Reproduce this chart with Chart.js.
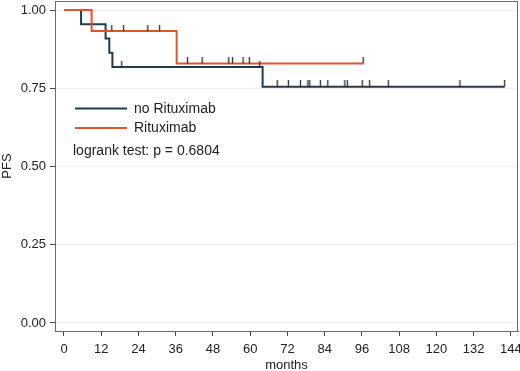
<!DOCTYPE html>
<html>
<head>
<meta charset="utf-8">
<script src="https://cdn.jsdelivr.net/npm/chart.js@4"></script>
<style>
  html, body { margin: 0; padding: 0; background: #fff; }
  #wrap { width: 520px; height: 371px; position: relative; }
</style>
</head>
<body>
<div id="wrap"><canvas id="km"></canvas></div>
<script>
// data
const xTicks = [0, 12, 24, 36, 48, 60, 72, 84, 96, 108, 120, 132, 144];
const yTicks = [0, 0.25, 0.5, 0.75, 1];

const noRituxTimes = [0, 5.5, 13.4, 14.6, 15.6, 64.0, 142];
const noRituxSurv = [1, 0.955, 0.909, 0.864, 0.818, 0.755, 0.755];
const noRituxCensored = [18.6, 63.1, 68.7, 72.3, 76.2, 78.6, 79.2, 82.6, 85.0, 90.5, 91.3, 96.1, 98.5, 104.5, 127.6, 142];

const rituxTimes = [0, 8.9, 36.3, 96.4];
const rituxSurv = [1, 0.933, 0.829, 0.829];
const rituxCensored = [15.4, 19.2, 27.0, 30.8, 39.8, 44.5, 53.1, 54.3, 57.7, 59.7, 96.4];

const labels = ["no Rituximab", "Rituximab"];
const logrankText = "logrank test: p = 0.6804";

const navy = "#1d3a57";
const orange = "#e4542a";
const font = "'Liberation Sans', Arial, sans-serif";

// survival value at time t (step lookup)
function survAt(times, surv, t) {
  let s = surv[0];
  for (let i = 0; i < times.length; i++) {
    if (times[i] <= t) s = surv[i];
  }
  return s;
}

// small upward censor tick image
function censorMark() {
  const c = document.createElement("canvas");
  c.width = 3;
  c.height = 13;
  const g = c.getContext("2d");
  g.strokeStyle = "#2e2e2e";
  g.lineWidth = 1.3;
  g.beginPath();
  g.moveTo(1.5, 0);
  g.lineTo(1.5, 6.5);
  g.stroke();
  return c;
}
const tick = censorMark();

const frameAndLegend = {
  id: "frameAndLegend",
  afterDraw(chart) {
    const { ctx, chartArea } = chart;
    ctx.save();
    ctx.strokeStyle = "#6b6b6b";
    ctx.lineWidth = 1;
    ctx.strokeRect(chartArea.left + 0.5, chartArea.top + 0.5,
      chartArea.right - chartArea.left - 1, chartArea.bottom - chartArea.top);

    ctx.lineWidth = 2;
    ctx.strokeStyle = navy;
    ctx.beginPath(); ctx.moveTo(75, 108.5); ctx.lineTo(127, 108.5); ctx.stroke();
    ctx.strokeStyle = orange;
    ctx.beginPath(); ctx.moveTo(75, 128); ctx.lineTo(127, 128); ctx.stroke();

    ctx.fillStyle = "#222";
    ctx.font = "14px " + font;
    ctx.textBaseline = "middle";
    ctx.fillText(labels[0], 134, 109);
    ctx.fillText(labels[1], 134, 128.5);
    ctx.fillText(logrankText, 73, 151);
    ctx.restore();
  }
};

const ctx = document.getElementById("km").getContext("2d");
const chart_km = new Chart(ctx, {
  type: "scatter",
  data: {
    datasets: [
      {
        label: labels[1],
        data: rituxTimes.map((t, i) => ({ x: t, y: rituxSurv[i] })),
        showLine: true,
        stepped: "before",
        borderColor: orange,
        borderWidth: 2,
        pointRadius: 0,
        order: 1,
      },
      {
        label: labels[0],
        data: noRituxTimes.map((t, i) => ({ x: t, y: noRituxSurv[i] })),
        showLine: true,
        stepped: "before",
        borderColor: navy,
        borderWidth: 2,
        pointRadius: 0,
        order: 2,
      },
      {
        label: "censored",
        data: rituxCensored.map(t => ({ x: t, y: survAt(rituxTimes, rituxSurv, t) }))
          .concat(noRituxCensored.map(t => ({ x: t, y: survAt(noRituxTimes, noRituxSurv, t) }))),
        pointStyle: tick,
        pointRadius: 6,
        showLine: false,
        order: 0,
      },
    ],
  },
  options: {
    responsive: true,
    maintainAspectRatio: false,
    animation: false,
    layout: { autoPadding: false, padding: { top: 1, right: 2, left: 0, bottom: 0 } },
    plugins: {
      legend: { display: false },
      tooltip: { enabled: false },
    },
    scales: {
      x: {
        type: "linear",
        min: -2.9,
        max: 146.3,
        afterBuildTicks: (scale) => { scale.ticks = xTicks.map(v => ({ value: v })); },
        afterFit: (scale) => {
          scale.height = 40;
          scale.paddingLeft = 0;
          scale.paddingRight = 0;
        },
        grid: { display: true, drawOnChartArea: false, tickLength: 5, tickColor: "#444" },
        border: { color: "#6b6b6b" },
        ticks: { color: "#222", font: { family: font, size: 13 }, padding: 6, maxRotation: 0, autoSkip: false },
        title: { display: true, text: "months", color: "#222", font: { family: font, size: 13 }, padding: { top: 0, bottom: -2 } },
      },
      y: {
        min: -0.0256,
        max: 1.029,
        afterBuildTicks: (scale) => { scale.ticks = yTicks.map(v => ({ value: v })); },
        afterFit: (scale) => {
          scale.width = 55;
          scale.paddingTop = 0;
          scale.paddingBottom = 0;
        },
        grid: { color: "#efefef", tickLength: 5, tickColor: "#444" },
        border: { color: "#6b6b6b" },
        ticks: {
          color: "#222",
          font: { family: font, size: 13 },
          padding: 4,
          callback: (v) => v.toFixed(2),
        },
        title: { display: true, text: "PFS", color: "#222", font: { family: font, size: 13 }, padding: { top: 0, bottom: 0 } },
      },
    },
  },
  plugins: [frameAndLegend],
});
</script>
</body>
</html>
